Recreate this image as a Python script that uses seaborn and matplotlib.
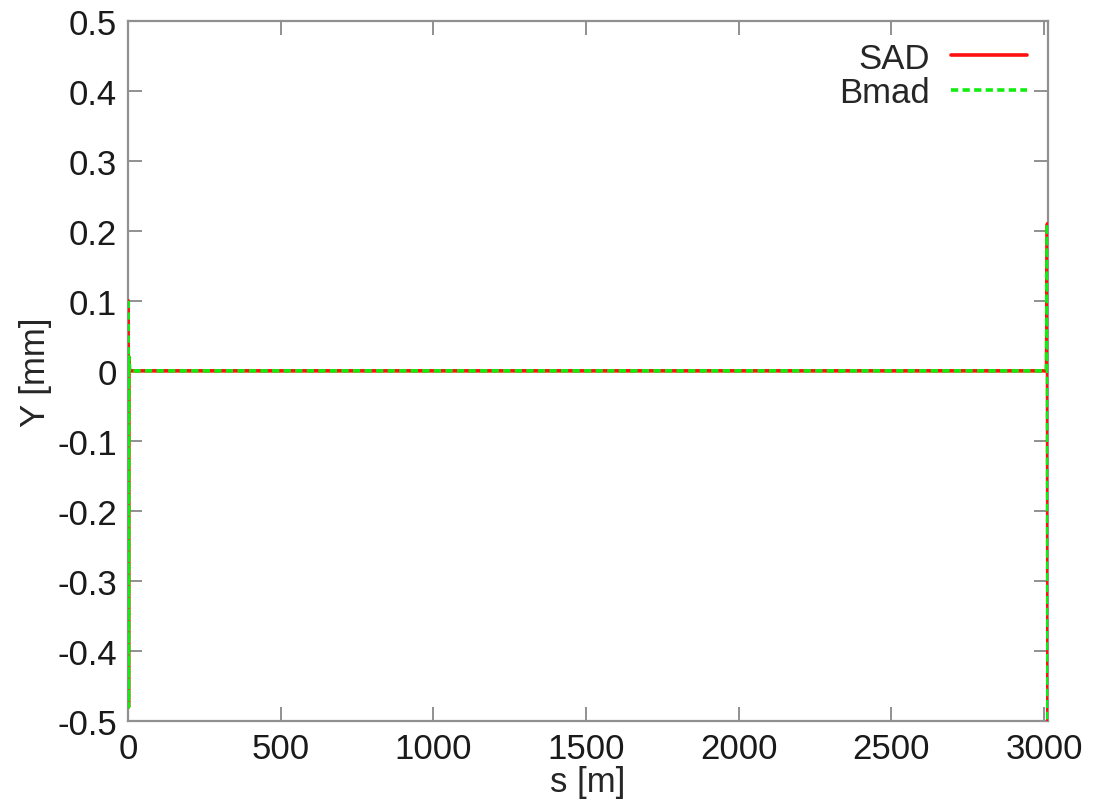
import pandas as pd
import seaborn as sns
import matplotlib
matplotlib.use("Agg")
import matplotlib.pyplot as plt

# orbit Y along the ring, both codes
s_sad = [0.5, 1.5, 3, 5, 1500, 3008, 3011, 3012.5, 3013]
y_sad = [0.10, -0.48, 0.02, 0.0, 0.0, 0.0, 0.21, -0.55, 0.0]
s_bmad = [0.5, 1.5, 3, 5, 1500, 3008, 3011, 3012.5, 3013]
y_bmad = [0.10, -0.48, 0.02, 0.0, 0.0, 0.0, 0.21, -0.55, 0.0]

x_ticks = [0, 500, 1000, 1500, 2000, 2500, 3000]
y_ticks = [-0.5, -0.4, -0.3, -0.2, -0.1, 0, 0.1, 0.2, 0.3, 0.4, 0.5]
y_ticklabels = ["-0.5", "-0.4", "-0.3", "-0.2", "-0.1", "0",
                "0.1", "0.2", "0.3", "0.4", "0.5"]


def main():
    sns.set_style("ticks")
    plt.rcParams["font.family"] = ["Liberation Sans", "DejaVu Sans"]

    df = pd.concat([
        pd.DataFrame({"s": s_sad, "y": y_sad, "code": "SAD"}),
        pd.DataFrame({"s": s_bmad, "y": y_bmad, "code": "Bmad"}),
    ])

    fig = plt.figure(figsize=(10.94, 8.04), dpi=100)
    ax = fig.add_axes([0.117, 0.102, 0.841, 0.871])

    sns.lineplot(data=df[df.code == "SAD"], x="s", y="y", color="#ff1010",
                 lw=2.6, ax=ax, label="SAD", estimator=None, sort=False,
                 zorder=3)
    sns.lineplot(data=df[df.code == "Bmad"], x="s", y="y", color="#10ee10",
                 lw=2.6, ax=ax, label="Bmad", estimator=None, sort=False,
                 dashes=False, zorder=3)
    ax.lines[1].set_linestyle((0, (2, 1.2)))

    ax.set_xlim(0, 3013)
    ax.set_ylim(-0.5, 0.5)
    ax.set_xticks(x_ticks)
    ax.set_yticks(y_ticks)
    ax.set_yticklabels(y_ticklabels)
    ax.set_xlabel("s [m]", fontsize=25, labelpad=0)
    ax.set_ylabel("Y [mm]", fontsize=25, labelpad=4)

    for side in ax.spines.values():
        side.set_color("#909090")
        side.set_linewidth(1.6)
        side.set_zorder(1)
    ax.tick_params(direction="in", length=10, width=1.4, color="#909090",
                   labelsize=25, labelcolor="#1a1a1a", top=True, right=True,
                   pad=8)

    ax.legend(loc="upper right", frameon=False, markerfirst=False,
              fontsize=25, handlelength=2.2, handletextpad=0.6,
              labelspacing=0.05, borderaxespad=0.2)

    fig.savefig("out.png", dpi=100)


main()
